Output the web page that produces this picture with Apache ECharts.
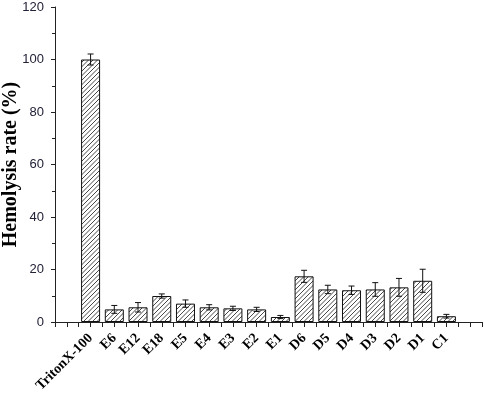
<!DOCTYPE html>
<html><head><meta charset="utf-8">
<script src="https://cdn.jsdelivr.net/npm/echarts@6/dist/echarts.min.js"></script>
<style>html,body{margin:0;padding:0;background:#fff}#c{width:484px;height:397px}</style>
</head><body><div id="c"></div>
<script>
const categories = [' ', 'TritonX-100', 'E6', 'E12', 'E18', 'E5', 'E4', 'E3', 'E2', 'E1', 'D6', 'D5', 'D4', 'D3', 'D2', 'D1', 'C1', '  '];
const values = ['-', 100, 4.8, 5.6, 9.9, 7.0, 5.6, 5.2, 4.8, 1.9, 17.4, 12.4, 12.1, 12.4, 13.2, 15.7, 2.2, '-'];
const errors = [0, 2.1, 1.5, 1.8, 0.8, 1.4, 1.0, 0.8, 0.8, 0.6, 2.3, 1.6, 1.6, 2.6, 3.4, 4.4, 0.7, 0];
const yTicks = { min: 0, max: 120, interval: 20 };

const P = 4.5;
const pc = document.createElement('canvas');
pc.width = 9; pc.height = 9;
const g = pc.getContext('2d');
g.fillStyle = '#fff'; g.fillRect(0, 0, 9, 9);
g.strokeStyle = '#333'; g.lineWidth = 0.9;
g.beginPath();
for (let k = -2; k <= 4; k++) {
  const o = k * P;
  g.moveTo(o - 1, 10); g.lineTo(o + 10, -1);
}
g.stroke();

const errData = values.map((v, i) => v === '-' ? null : [i, v, errors[i]]).filter(d => d);

const chart = echarts.init(document.getElementById('c'), null, { renderer: 'canvas' });
chart.setOption({
  animation: false,
  grid: { left: 55, right: 2, top: 7, bottom: 75, containLabel: false, outerBoundsMode: 'none' },
  xAxis: [{
    type: 'category', data: categories,
    axisLine: { lineStyle: { color: '#222', width: 1 } },
    axisTick: { show: true, length: 5, lineStyle: { color: '#222' } },
    axisLabel: { rotate: 45, interval: 0, fontFamily: 'Liberation Serif', fontWeight: 'bold', fontSize: 14, color: '#000', margin: 14 }
  }, {
    type: 'category', data: categories, position: 'bottom',
    axisLine: { show: false },
    axisTick: { show: true, alignWithLabel: true, interval: 0, length: 5, lineStyle: { color: '#222' } },
    axisLabel: { show: false }
  }],
  yAxis: {
    type: 'value', min: yTicks.min, max: yTicks.max, interval: yTicks.interval,
    name: 'Hemolysis rate (%)', nameLocation: 'middle', nameGap: 34, nameMoveOverlap: false,
    nameTextStyle: { fontFamily: 'Liberation Serif', fontWeight: 'bold', fontSize: 20, color: '#000' },
    axisLine: { show: true, lineStyle: { color: '#222', width: 1 } },
    axisTick: { show: true, length: 4, lineStyle: { color: '#222' } },
    minorTick: { show: true, splitNumber: 2, length: 3, lineStyle: { color: '#222' } },
    splitLine: { show: false },
    axisLabel: { fontFamily: 'Liberation Sans', fontSize: 13, color: '#222238', margin: 11 }
  },
  series: [{
    type: 'bar', data: values, barWidth: 19,
    itemStyle: { color: { image: pc, repeat: 'repeat' }, borderColor: '#111', borderWidth: 1 }
  }, {
    type: 'custom', data: errData, z: 10,
    renderItem: function (params, api) {
      const x = api.value(0), v = api.value(1), e = api.value(2);
      const hi = api.coord([x, v + e]);
      const lo = api.coord([x, v - e]);
      const w = 3;
      return { type: 'group', children: [
        { type: 'line', shape: { x1: hi[0], y1: hi[1], x2: lo[0], y2: lo[1] }, style: { stroke: '#111', lineWidth: 1 } },
        { type: 'line', shape: { x1: hi[0] - w, y1: hi[1], x2: hi[0] + w, y2: hi[1] }, style: { stroke: '#111', lineWidth: 1 } },
        { type: 'line', shape: { x1: lo[0] - w, y1: lo[1], x2: lo[0] + w, y2: lo[1] }, style: { stroke: '#111', lineWidth: 1 } }
      ] };
    }
  }]
});
</script></body></html>
